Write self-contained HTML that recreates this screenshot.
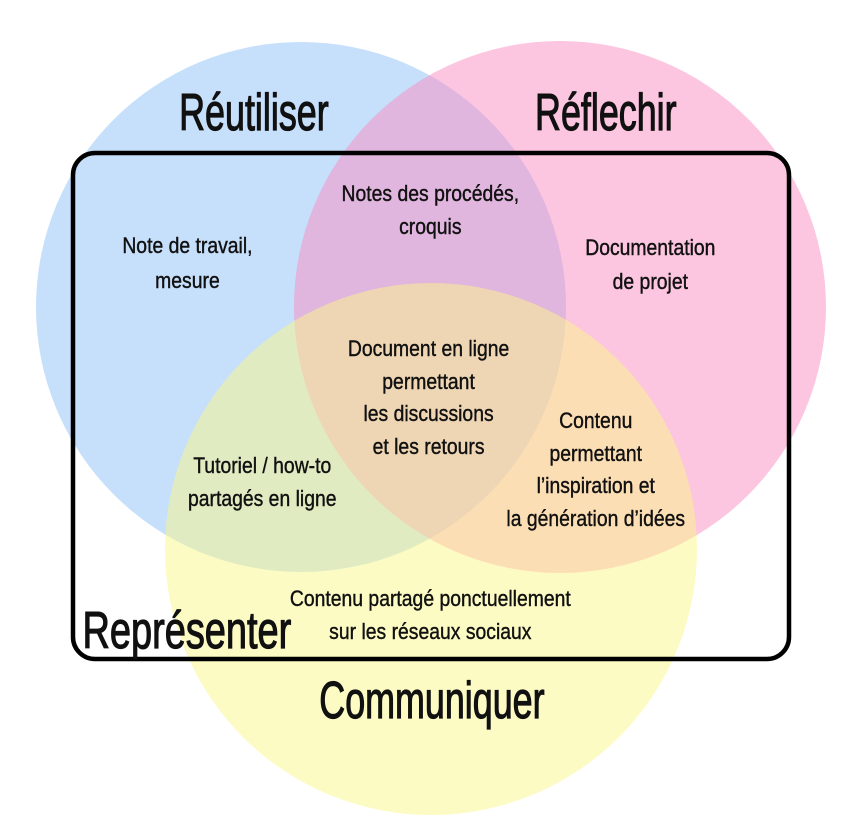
<!DOCTYPE html>
<html><head><meta charset="utf-8"><style>
body{margin:0;background:#fff;width:868px;height:831px;overflow:hidden}
svg text{font-family:"Liberation Sans Narrow","Liberation Sans",sans-serif;fill:#111;text-anchor:middle}
.s text{font-size:22px;stroke:#111;stroke-width:0.4}
.t text{font-size:52px;stroke:#111;stroke-width:1.2}
</style></head><body>
<svg width="868" height="831" viewBox="0 0 868 831">
<circle cx="301" cy="307" r="265" fill="#8ec0f8" fill-opacity="0.5"/>
<circle cx="560" cy="307" r="266" fill="#f98cc1" fill-opacity="0.5"/>
<circle cx="431" cy="549" r="266" fill="#fbf78a" fill-opacity="0.5"/>
<rect x="73" y="153" width="716" height="506" rx="22" fill="none" stroke="#000" stroke-width="4.5"/>
<g class="t" transform="scale(0.69,1)">
<text x="368" y="130">Réutiliser</text>
<text x="878" y="130">Réflechir</text>
<text x="626" y="718">Communiquer</text>
</g>
<g class="t" transform="scale(0.73,1)">
<text x="256" y="648">Représenter</text>
</g>
<g class="s" transform="scale(0.88,1)">
<text x="489" y="201">Notes des procédés,</text><text x="489" y="234">croquis</text>
<text x="213" y="253">Note de travail,</text><text x="213" y="288">mesure</text>
<text x="739" y="255">Documentation</text><text x="739" y="289">de projet</text>
<text x="487" y="356">Document en ligne</text><text x="487" y="389">permettant</text><text x="487" y="421">les  discussions</text><text x="487" y="454">et les retours</text>
<text x="677" y="428">Contenu</text><text x="677" y="461">permettant</text><text x="677" y="493">l’inspiration et</text><text x="677" y="526">la génération d’idées</text>
<text x="298" y="473">Tutoriel / how-to</text><text x="298" y="506">partagés en ligne</text>
<text x="489" y="606">Contenu partagé ponctuellement</text><text x="489" y="639">sur les réseaux sociaux</text>
</g>
</svg>
</body></html>
